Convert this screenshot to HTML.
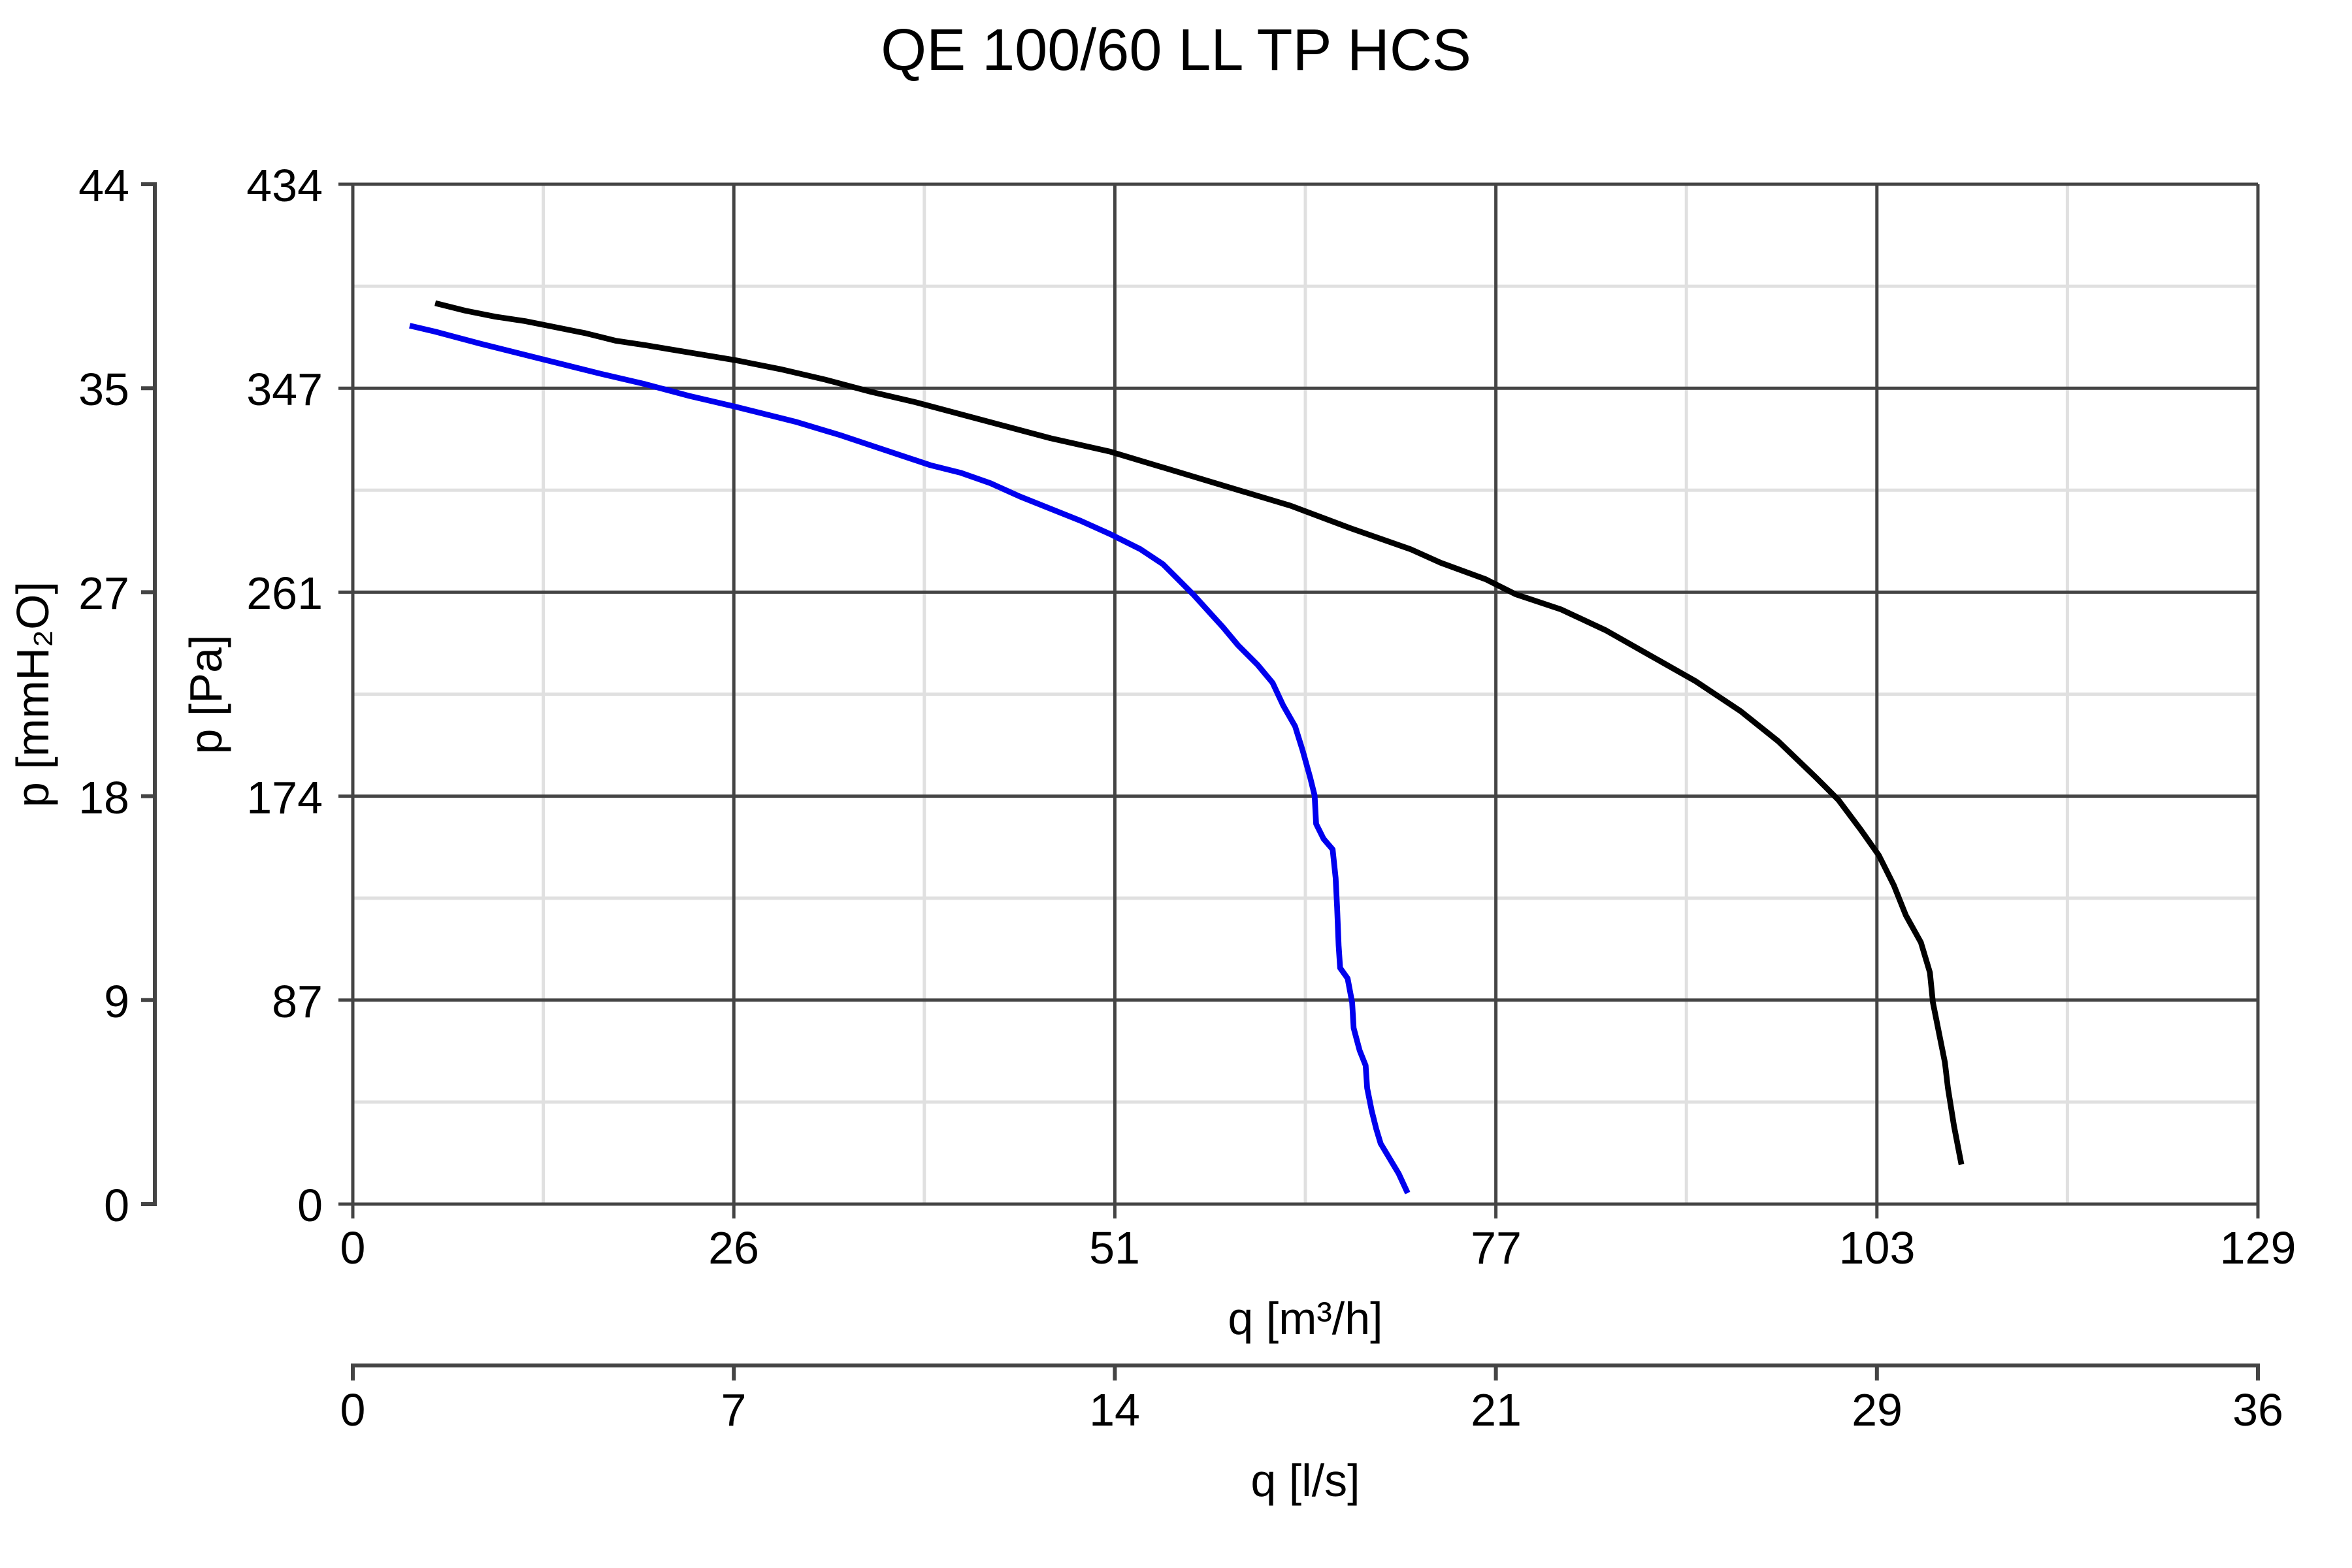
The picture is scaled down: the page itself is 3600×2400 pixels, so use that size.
<!DOCTYPE html>
<html><head><meta charset="utf-8"><style>
html,body{margin:0;padding:0;background:#fff}
svg{display:block}
text{font-family:"Liberation Sans",Arial,sans-serif;fill:#000}
</style></head><body>
<svg width="3600" height="2400" viewBox="0 0 3600 2400" xmlns="http://www.w3.org/2000/svg">
<rect width="3600" height="2400" fill="#fff"/>
<text x="1800" y="107" font-size="90" text-anchor="middle">QE 100/60 LL TP HCS</text>
<g stroke="#e0e0e0" stroke-width="5">
<line x1="831.6" y1="282" x2="831.6" y2="1843"/>
<line x1="1414.8" y1="282" x2="1414.8" y2="1843"/>
<line x1="1998" y1="282" x2="1998" y2="1843"/>
<line x1="2581.2" y1="282" x2="2581.2" y2="1843"/>
<line x1="3164.4" y1="282" x2="3164.4" y2="1843"/>
<line x1="540" y1="438.1" x2="3456" y2="438.1"/>
<line x1="540" y1="750.3" x2="3456" y2="750.3"/>
<line x1="540" y1="1062.5" x2="3456" y2="1062.5"/>
<line x1="540" y1="1374.7" x2="3456" y2="1374.7"/>
<line x1="540" y1="1686.9" x2="3456" y2="1686.9"/>
</g>
<g stroke="#444" stroke-width="5">
<line x1="1123.2" y1="282" x2="1123.2" y2="1865"/>
<line x1="1706.4" y1="282" x2="1706.4" y2="1865"/>
<line x1="2289.6" y1="282" x2="2289.6" y2="1865"/>
<line x1="2872.8" y1="282" x2="2872.8" y2="1865"/>
<line x1="3456" y1="282" x2="3456" y2="1865"/>
<line x1="540" y1="282" x2="540" y2="1865"/>
<line x1="518" y1="282" x2="3456" y2="282"/>
<line x1="518" y1="594.2" x2="3456" y2="594.2"/>
<line x1="518" y1="906.4" x2="3456" y2="906.4"/>
<line x1="518" y1="1218.6" x2="3456" y2="1218.6"/>
<line x1="518" y1="1530.8" x2="3456" y2="1530.8"/>
<line x1="518" y1="1843" x2="3456" y2="1843"/>
</g>
<g stroke="#444" stroke-width="6" fill="none">
<path d="M216 282 H237 V1843 H216"/>
<line x1="216" y1="594.2" x2="237" y2="594.2"/>
<line x1="216" y1="906.4" x2="237" y2="906.4"/>
<line x1="216" y1="1218.6" x2="237" y2="1218.6"/>
<line x1="216" y1="1530.8" x2="237" y2="1530.8"/>
<path d="M540 2113 V2090 H3456 V2113"/>
<line x1="1123.2" y1="2090" x2="1123.2" y2="2113"/>
<line x1="1706.4" y1="2090" x2="1706.4" y2="2113"/>
<line x1="2289.6" y1="2090" x2="2289.6" y2="2113"/>
<line x1="2872.8" y1="2090" x2="2872.8" y2="2113"/>
</g>
<g font-size="70" text-anchor="end">
<text x="198" y="308">44</text><text x="198" y="620">35</text><text x="198" y="932">27</text>
<text x="198" y="1245">18</text><text x="198" y="1557">9</text><text x="198" y="1869">0</text>
<text x="494" y="308">434</text><text x="494" y="620">347</text><text x="494" y="932">261</text>
<text x="494" y="1245">174</text><text x="494" y="1557">87</text><text x="494" y="1869">0</text>
</g>
<g font-size="70" text-anchor="middle">
<text x="540" y="1934">0</text><text x="1123" y="1934">26</text><text x="1706" y="1934">51</text>
<text x="2290" y="1934">77</text><text x="2873" y="1934">103</text><text x="3456" y="1934">129</text>
<text x="540" y="2182">0</text><text x="1123" y="2182">7</text><text x="1706" y="2182">14</text>
<text x="2290" y="2182">21</text><text x="2873" y="2182">29</text><text x="3456" y="2182">36</text>
<text x="1998" y="2042">q [m³/h]</text>
<text x="1998" y="2290">q [l/s]</text>
<text transform="translate(74,1063) rotate(-90)">p [mmH₂O]</text>
<text transform="translate(339,1063) rotate(-90)">p [Pa]</text>
</g>
<g transform="scale(2.297)" fill="none" stroke-width="3.8" stroke-linejoin="round">
<polyline stroke="#000" points="290,202 310,207 330,211 350,214 370,218 390,222 410,227 430,230 460,235 490,240 520,246 550,253 580,261 610,268 640,276 670,284 700,292 740,301 780,313 820,325 860,337 900,352 940,366 960,375 990,386 1010,396 1040,406 1070,420 1100,437 1130,454 1160,474 1185,494 1210,518 1225,533 1240,553 1252,570 1262,590 1270,610 1280,628 1286,648 1288,668 1292,688 1296,708 1298,725 1302,750 1307,776"/>
<polyline stroke="#0000ee" points="273,217 290,221 320,229 360,239 400,249 430,256 460,264 490,271 530,281 560,290 590,300 620,310 640,315 660,322 680,331 700,339 720,347 740,356 760,366 775,376 785,386 795,396 805,407 815,418 825,430 838,443 848,455 855,470 863,484 868,500 873,518 876,530 877,549 882,559 888,566 890,585 891,605 892,630 893,645 898,652 901,668 902,685 906,700 910,710 911,725 914,740 917,752 920,762 926,772 932,782 938,795"/>
</g>
</svg>
</body></html>
